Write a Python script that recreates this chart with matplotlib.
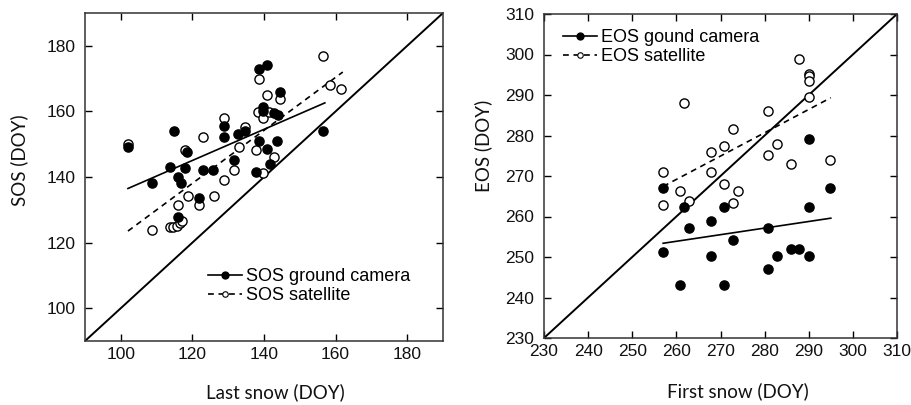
import matplotlib
matplotlib.use("Agg")
import matplotlib.pyplot as plt
import numpy as np

# ---------------- data ----------------
# Left panel: SOS vs last snow
sos_cam_x = [101.9, 108.8, 114.9, 113.7, 117.9, 116.0, 116.8, 118.6, 123.0, 125.7,
             128.7, 128.7, 131.6, 132.7, 134.7, 137.8, 138.5, 140.8, 139.6, 139.6,
             138.7, 140.8, 143.6, 141.7, 142.9, 143.8, 144.5, 156.6, 121.8, 116.0]
sos_cam_y = [149.0, 138.2, 153.9, 143.2, 142.8, 140.0, 138.2, 147.7, 142.2, 142.2,
             155.7, 152.3, 145.2, 153.1, 154.1, 141.5, 173.0, 174.0, 161.3, 160.1,
             151.1, 148.5, 151.1, 144.0, 159.6, 158.9, 165.9, 154.1, 133.7, 127.7]
sos_sat_x = [101.9, 117.9, 123.0, 128.7, 128.7, 131.6, 132.9, 134.7, 137.8, 138.5,
             138.2, 139.6, 139.6, 140.8, 141.5, 142.7, 144.5, 156.6, 158.4, 161.6,
             118.8, 126.0, 121.8, 116.0, 108.8, 113.7, 114.6, 115.6, 116.5, 117.2]
sos_sat_y = [150.0, 148.2, 152.1, 158.1, 139.2, 142.2, 149.0, 155.1, 148.2, 170.0,
             159.9, 158.1, 141.2, 164.9, 159.8, 146.2, 163.9, 176.9, 167.9, 166.9,
             134.2, 134.2, 131.5, 131.5, 123.8, 124.7, 124.7, 125.2, 126.0, 126.7]
# regression lines (slope, intercept, x range)
sos_cam_fit = (0.4745, 88.1, 102.0, 157.0)
sos_sat_fit = (0.808, 41.1, 102.0, 162.0)

# Right panel: EOS vs first snow
eos_cam_x = [256.9, 256.9, 260.9, 261.8, 262.9, 267.9, 267.9, 270.8, 270.8, 272.8,
             280.8, 280.8, 282.8, 286.0, 287.9, 290.0, 290.0, 294.8, 290.0]
eos_cam_y = [267.0, 251.2, 243.2, 262.3, 257.1, 259.0, 250.2, 262.3, 243.2, 254.1,
             257.1, 247.0, 250.2, 252.0, 252.0, 262.3, 250.2, 267.0, 279.2]
eos_sat_x = [256.9, 260.9, 261.8, 262.9, 267.9, 267.9, 270.8, 270.8, 272.8, 274.0,
             272.8, 280.8, 280.8, 282.8, 286.0, 287.9, 290.0, 290.0, 290.0, 290.0,
             294.8, 256.9]
eos_sat_y = [271.0, 266.4, 288.1, 263.9, 275.9, 271.0, 277.4, 268.1, 281.5, 266.4,
             263.4, 286.0, 275.1, 278.0, 273.0, 299.0, 295.3, 294.6, 293.4, 289.5,
             274.0, 262.9]
eos_cam_fit = (0.163, 211.5, 257.0, 295.0)
eos_sat_fit = (0.576, 119.4, 257.0, 295.0)

left_ticks_x = [100, 120, 140, 160, 180]
left_ticks_y = [100, 120, 140, 160, 180]
right_ticks = [230, 240, 250, 260, 270, 280, 290, 300, 310]

# ---------------- style ----------------
TICK_FONT = "Liberation Sans"
LABEL_FONT = "Lato"
MS = 6.6
DASH = (0, (3.5, 2.8))

fig = plt.figure(figsize=(9.11, 4.05), dpi=100)
axL = fig.add_axes([85 / 911, 1 - 341 / 405, 358 / 911, 328 / 405])
axR = fig.add_axes([544 / 911, 1 - 338 / 405, 353 / 911, 324 / 405])


def style(ax, lo, hi, xt, yt, xlabel, ylabel, xlc, ylc):
    ax.set_xlim(lo, hi)
    ax.set_ylim(lo, hi)
    ax.set_xticks(xt)
    ax.set_yticks(yt)
    ax.tick_params(direction="in", top=True, right=True, length=5, width=1.0,
                   labelsize=12.5, labelfontfamily=TICK_FONT, labelcolor="#111111")
    ax.tick_params(axis="x", pad=4)
    ax.tick_params(axis="y", pad=7)
    for s in ax.spines.values():
        s.set_linewidth(1.1)
        s.set_color("#333333")
    ax.set_xlabel(xlabel, family=LABEL_FONT, fontsize=13.5, color="#111111")
    ax.set_ylabel(ylabel, family=LABEL_FONT, fontsize=13.5, color="#111111")
    ax.xaxis.set_label_coords(*xlc)
    ax.yaxis.set_label_coords(*ylc)
    ax.plot([lo, hi], [lo, hi], color="black", lw=1.4, zorder=1)


def fitline(ax, fit, **kw):
    m, b, x0, x1 = fit
    xs = np.array([x0, x1])
    ax.plot(xs, m * xs + b, **kw)


# Left panel
style(axL, 90, 190, left_ticks_x, left_ticks_y, "Last snow (DOY)", "SOS (DOY)",
      (0.531, -0.128), (-0.16, 0.552))
fitline(axL, sos_cam_fit, color="black", lw=1.2, zorder=2)
fitline(axL, sos_sat_fit, color="black", lw=1.2, ls=DASH, zorder=2)
axL.plot(sos_sat_x, sos_sat_y, ls="none", marker="o", ms=MS, mfc="white",
         mec="black", mew=1.0, zorder=3)
axL.plot(sos_cam_x, sos_cam_y, ls="none", marker="o", ms=MS, mfc="black",
         mec="black", zorder=4)
hL1, = axL.plot([], [], color="black", lw=1.2, marker="o", ms=MS * 0.75,
                mfc="black", mec="black")
hL2, = axL.plot([], [], color="black", lw=1.2, ls=DASH, marker="o", ms=MS * 0.6,
                mfc="white", mec="black", mew=0.8)
axL.legend([hL1, hL2], ["SOS ground camera", "SOS satellite"], loc="upper left",
           bbox_to_anchor=(0.344, 0.222), frameon=False, borderpad=0,
           borderaxespad=0, handlelength=1.9, handletextpad=0.22,
           labelspacing=0.12, prop={"family": TICK_FONT, "size": 13})

# Right panel
style(axR, 230, 310, right_ticks, right_ticks, "First snow (DOY)", "EOS (DOY)",
      (0.55, -0.136), (-0.147, 0.593))
fitline(axR, eos_cam_fit, color="black", lw=1.2, zorder=2)
fitline(axR, eos_sat_fit, color="black", lw=1.2, ls=DASH, zorder=2)
axR.plot(eos_sat_x, eos_sat_y, ls="none", marker="o", ms=MS, mfc="white",
         mec="black", mew=1.0, zorder=3)
axR.plot(eos_cam_x, eos_cam_y, ls="none", marker="o", ms=MS, mfc="black",
         mec="black", zorder=4)
hR1, = axR.plot([], [], color="black", lw=1.2, marker="o", ms=MS * 0.75,
                mfc="black", mec="black")
hR2, = axR.plot([], [], color="black", lw=1.2, ls=DASH, marker="o", ms=MS * 0.6,
                mfc="white", mec="black", mew=0.8)
axR.legend([hR1, hR2], ["EOS gound camera", "EOS satellite"], loc="upper left",
           bbox_to_anchor=(0.054, 0.954), frameon=False, borderpad=0,
           borderaxespad=0, handlelength=1.9, handletextpad=0.22,
           labelspacing=0.12, prop={"family": TICK_FONT, "size": 13})

fig.savefig("out.png", dpi=100)
